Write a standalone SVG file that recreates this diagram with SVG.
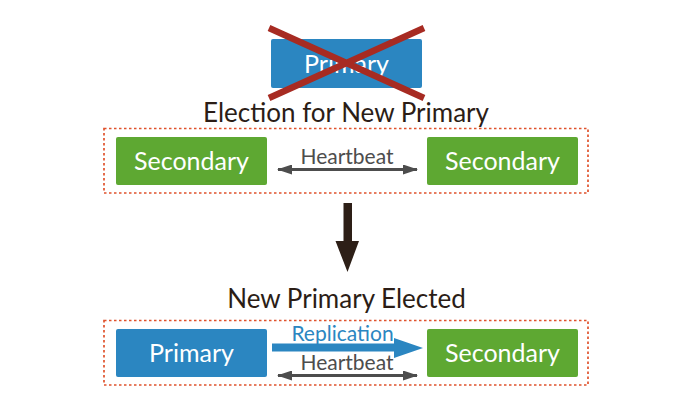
<svg xmlns="http://www.w3.org/2000/svg" width="696" height="418" viewBox="0 0 696 418">
<defs>
<style>
.t{font-family:Lato,"Open Sans","Liberation Sans",sans-serif;text-anchor:middle}
.box{font-size:25px;fill:#ffffff}
.head{font-size:26px;fill:#2b1d16}
.lbl{font-size:21px}
.blue{fill:#2b86c1}
.green{fill:#5ea832}
.grp{fill:none;stroke:#e0522c;stroke-width:1.7;stroke-dasharray:2.5 2.5}
.hb{stroke:#4d4d4d;stroke-width:3;fill:none}
</style>
<marker id="hbh" viewBox="0 0 15 10" refX="14" refY="5" markerWidth="15" markerHeight="10" markerUnits="userSpaceOnUse" orient="auto-start-reverse">
<path d="M0,0 L15,5 L0,10 Z" fill="#4d4d4d"/>
</marker>
</defs>
<rect width="696" height="418" fill="#ffffff"/>

<g id="old-primary">
<rect x="271" y="39" width="151" height="49" rx="2" class="blue"/>
<text x="346.5" y="73" class="t box">Primary</text>
<path d="M269,28 L424,98 M424,28 L269,98" stroke="#a72b22" stroke-width="6.5" fill="none"/>
</g>

<text x="346" y="122" class="t head">Election for New Primary</text>

<g id="election-group">
<rect x="104" y="128.5" width="484" height="64.5" class="grp"/>
</g>
<g id="sec-left">
<rect x="116" y="137" width="151" height="48" rx="2" class="green"/>
<text x="191.5" y="170" class="t box">Secondary</text>
</g>
<g id="sec-right">
<rect x="427" y="137" width="151" height="48" rx="2" class="green"/>
<text x="502.5" y="170" class="t box">Secondary</text>
</g>

<text x="346.5" y="308" class="t head">New Primary Elected</text>

<g id="elected-group">
<rect x="104" y="320.5" width="484" height="64.5" class="grp"/>
</g>
<g id="new-primary">
<rect x="116" y="329" width="151" height="48" rx="2" class="blue"/>
<text x="191.5" y="362" class="t box">Primary</text>
</g>
<g id="sec-bottom">
<rect x="427" y="329" width="151" height="48" rx="2" class="green"/>
<text x="502.5" y="362" class="t box">Secondary</text>
</g>

<g id="connectors">
<line x1="278" y1="169.5" x2="417" y2="169.5" class="hb" marker-start="url(#hbh)" marker-end="url(#hbh)"/>
<text x="347" y="164" class="t lbl" fill="#4d4d4d">Heartbeat</text>

<path d="M343.5,203 H352 V241 H359 L347.5,272 L335.5,241 H343.5 Z" fill="#2d1f17"/>

<path d="M272,343.5 H394 V338 L423,348 L394,358 V351.5 H272 Z" fill="#2b86c1"/>
<text x="342.5" y="341" class="t lbl" fill="#2b86c1">Replication</text>

<line x1="278" y1="375.5" x2="417" y2="375.5" class="hb" marker-start="url(#hbh)" marker-end="url(#hbh)"/>
<text x="347" y="370" class="t lbl" fill="#4d4d4d">Heartbeat</text>
</g>
</svg>
